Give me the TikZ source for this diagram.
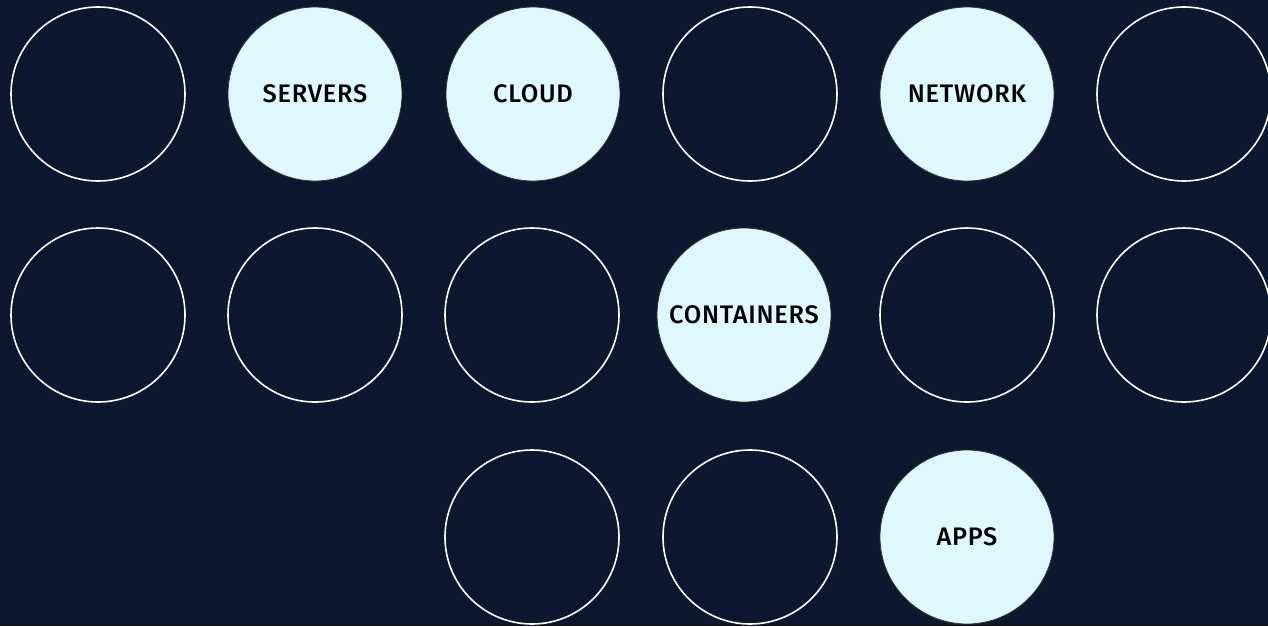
\documentclass[tikz,border=0pt]{standalone}
\usepackage{fontspec}
\setmainfont{Fira Sans}
\newfontfamily\topicfont[LetterSpace=3]{Fira Sans Medium}
\usepackage{tikz}
\usetikzlibrary{calc}

\definecolor{navybg}{HTML}{0C1830}
\definecolor{topicfill}{HTML}{DFF8FD}
\definecolor{topicline}{HTML}{333333}

\begin{document}
\begin{tikzpicture}[x=0.75pt,y=-0.75pt,
    ring/.style={circle,draw=white,line width=1.2pt,minimum size=130.5pt,inner sep=0pt},
    topic/.style={circle,draw=topicline,fill=topicfill,line width=0.6pt,minimum size=130.5pt,inner sep=0pt,
                  font=\topicfont\fontsize{19}{22}\selectfont,text=black}]
                      \fill[navybg] (0,0) rectangle (1268,626);
                      \useasboundingbox (0,0) rectangle (1268,626);
                      % top row
                      \node[ring](r1a)at(98,94){};
                      \node[topic](servers)at(315,94){SERVERS};
                      \node[topic](cloud)at(533,94){CLOUD};
                      \node[ring](r1d)at(750,94){};
                      \node[topic](network)at(967,94){NETWORK};
                      \node[ring](r1f)at(1184,94){};
                      % middle row
                      \node[ring](r2a)at(98,315){};
                      \node[ring](r2b)at(315,315){};
                      \node[ring](r2c)at(532,315){};
                      \node[topic](containers)at(744,315){CONTAINERS};
                      \node[ring](r2e)at(967,315){};
                      \node[ring](r2f)at(1184,315){};
                      % bottom row
                      \node[ring](r3a)at(532,537){};
                      \node[ring](r3b)at(750,537){};
                      \node[topic](apps)at(967,537){APPS};
                  \end{tikzpicture}
\end{document}
